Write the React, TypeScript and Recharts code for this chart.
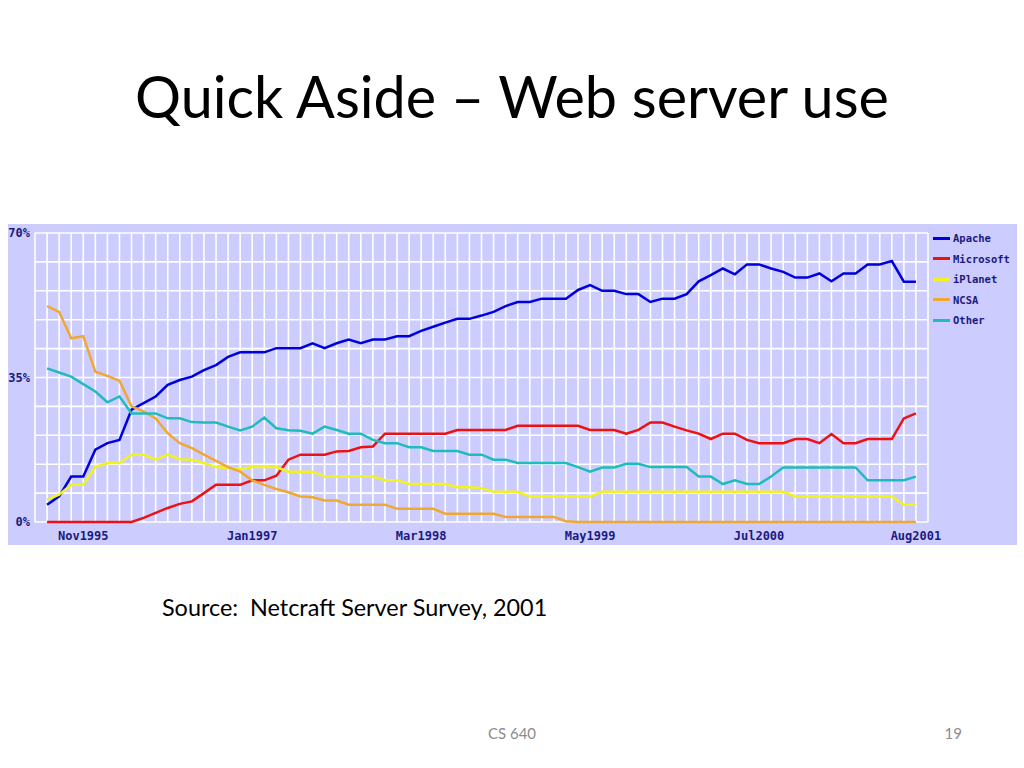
import React from "react";
import { LineChart, Line, XAxis, YAxis, CartesianGrid, Legend } from "recharts";

const monthNames = ["Jan","Feb","Mar","Apr","May","Jun","Jul","Aug","Sep","Oct","Nov","Dec"];
// Monthly survey, Aug1995 .. Aug2001 (73 months)
const months: string[] = [];
for (let k = 0; k < 73; k++) {
  const m = (7 + k) % 12;
  const y = 1995 + Math.floor((7 + k) / 12);
  months.push(monthNames[m] + y);
}

const xTickLabels = ["Nov1995", "Jan1997", "Mar1998", "May1999", "Jul2000", "Aug2001"];
const yTickLabels = ["0%", "35%", "70%"];

const apache = [
  4.2, 6.2, 11.0, 11.0, 17.5, 19.1, 19.9, 27.2, 28.8, 30.4, 33.2, 34.4,
  35.2, 36.8, 38.0, 40.0, 41.1, 41.1, 41.1, 42.1, 42.1, 42.1, 43.3, 42.1,
  43.3, 44.2, 43.3, 44.2, 44.2, 45.0, 45.0, 46.3, 47.3, 48.3, 49.2, 49.2,
  50.0, 50.9, 52.3, 53.3, 53.3, 54.1, 54.1, 54.1, 56.2, 57.4, 56.0, 56.0,
  55.2, 55.2, 53.3, 54.1, 54.1, 55.2, 58.3, 59.8, 61.4, 60.0, 62.4, 62.4,
  61.4, 60.6, 59.2, 59.2, 60.2, 58.3, 60.2, 60.2, 62.4, 62.4, 63.2, 58.2, 58.2,
];
const microsoft = [
  0, 0, 0, 0, 0, 0, 0, 0, 1.0, 2.2, 3.4, 4.4,
  5.0, 7.0, 9.0, 9.0, 9.0, 10.1, 10.1, 11.2, 15.1, 16.3, 16.3, 16.3,
  17.1, 17.2, 18.1, 18.3, 21.4, 21.4, 21.4, 21.4, 21.4, 21.4, 22.3, 22.3,
  22.3, 22.3, 22.3, 23.3, 23.3, 23.3, 23.3, 23.3, 23.3, 22.3, 22.3, 22.3,
  21.4, 22.3, 24.1, 24.1, 23.1, 22.2, 21.4, 20.1, 21.4, 21.4, 19.9, 19.1,
  19.1, 19.1, 20.1, 20.1, 19.1, 21.3, 19.1, 19.1, 20.1, 20.1, 20.1, 25.1, 26.3,
];
const iplanet = [
  5.4, 6.6, 9.0, 9.0, 13.3, 14.3, 14.3, 16.3, 16.3, 15.1, 16.3, 15.2,
  15.1, 14.3, 13.3, 13.1, 12.8, 13.3, 13.3, 13.3, 12.2, 12.2, 12.2, 11.0,
  11.0, 11.0, 11.0, 11.0, 10.1, 10.1, 9.2, 9.2, 9.2, 9.2, 8.4, 8.4,
  8.2, 7.3, 7.3, 7.3, 6.2, 6.2, 6.2, 6.2, 6.2, 6.2, 7.3, 7.3,
  7.3, 7.3, 7.3, 7.3, 7.3, 7.3, 7.3, 7.3, 7.3, 7.3, 7.3, 7.3,
  7.3, 7.3, 6.2, 6.2, 6.2, 6.2, 6.2, 6.2, 6.2, 6.2, 6.2, 4.2, 4.2,
];
const ncsa = [
  52.3, 50.9, 44.5, 45.0, 36.4, 35.4, 34.2, 28.0, 26.8, 25.1, 21.5, 19.1,
  17.9, 16.3, 14.8, 13.3, 12.2, 10.1, 9.0, 8.0, 7.2, 6.2, 6.0, 5.2,
  5.2, 4.2, 4.2, 4.2, 4.2, 3.2, 3.2, 3.2, 3.2, 2.0, 2.0, 2.0,
  2.0, 2.0, 1.2, 1.2, 1.2, 1.2, 1.2, 0.2, 0, 0, 0, 0,
  0, 0, 0, 0, 0, 0, 0, 0, 0, 0, 0, 0,
  0, 0, 0, 0, 0, 0, 0, 0, 0, 0, 0, 0, 0,
];
const other = [
  37.2, 36.2, 35.2, 33.4, 31.6, 29.0, 30.4, 26.3, 26.3, 26.3, 25.1, 25.1,
  24.2, 24.1, 24.1, 23.1, 22.2, 23.1, 25.3, 22.7, 22.2, 22.1, 21.4, 23.1,
  22.3, 21.4, 21.4, 19.9, 19.1, 19.1, 18.1, 18.1, 17.2, 17.2, 17.2, 16.3,
  16.3, 15.1, 15.1, 14.3, 14.3, 14.3, 14.3, 14.3, 13.3, 12.2, 13.2, 13.2,
  14.1, 14.1, 13.3, 13.3, 13.3, 13.3, 11.0, 11.0, 9.2, 10.1, 9.2, 9.2,
  11.0, 13.2, 13.2, 13.2, 13.2, 13.2, 13.2, 13.2, 10.1, 10.1, 10.1, 10.1, 11.0,
];

const seriesNames = ["Apache", "Microsoft", "iPlanet", "NCSA", "Other"];
const seriesColors = ["#0000dd", "#ee1111", "#f2f21e", "#f0a830", "#1fbcbc"];
const seriesValues = [apache, microsoft, iplanet, ncsa, other];

const data = months.map((m, i) => {
  const row: Record<string, number | string> = { i, month: m };
  seriesNames.forEach((n, s) => {
    row[n] = seriesValues[s][i];
  });
  return row;
});

const xLabelByIndex: Record<number, string> = {};
xTickLabels.forEach((lab) => {
  const idx = months.indexOf(lab);
  if (idx >= 0) xLabelByIndex[idx] = lab;
});

const xTicks: number[] = [];
for (let k = -1; k <= 73; k++) xTicks.push(k);
const yTicks = [0, 7, 14, 21, 28, 35, 42, 49, 56, 63, 70];

const navy = "#1a1a80";
const chartFont = "'DejaVu Sans Mono', monospace";

const LegendBox = () => (
  <div style={{ fontFamily: chartFont, fontSize: 10.5, fontWeight: "bold", color: navy, width: 84 }}>
    {seriesNames.map((n, s) => (
      <div key={n} style={{ display: "flex", alignItems: "center", height: 20.5 }}>
        <span
          style={{
            display: "inline-block",
            width: 17,
            height: 3,
            background: seriesColors[s],
            marginRight: 3,
          }}
        />
        <span>{n}</span>
      </div>
    ))}
  </div>
);

export default function App() {
  return (
    <div
      style={{
        position: "absolute",
        left: 0,
        top: 0,
        width: 1024,
        height: 768,
        background: "#ffffff",
        fontFamily: "Lato, 'Open Sans', sans-serif",
        overflow: "hidden",
      }}
    >
      <div
        style={{
          position: "absolute",
          left: 0,
          top: 64,
          width: 1024,
          textAlign: "center",
          fontSize: 57.5,
          lineHeight: "64px",
          color: "#000",
          whiteSpace: "nowrap",
        }}
      >
        Quick Aside – Web server use
      </div>

      <div
        style={{
          position: "absolute",
          left: 8,
          top: 224,
          width: 1009,
          height: 321,
          background: "#ccccff",
        }}
      >
        <LineChart
          width={1009}
          height={321}
          data={data}
          margin={{ top: 9, right: 5, left: 0, bottom: 0 }}
        >
          <CartesianGrid
            stroke="#ffffff"
            strokeWidth={1.6}
            horizontalValues={yTicks}
            verticalValues={xTicks}
          />
          <XAxis
            dataKey="i"
            type="number"
            domain={[-1, 73]}
            ticks={xTicks}
            interval={0}
            height={23}
            axisLine={false}
            tickLine={false}
            tickSize={0}
            tickMargin={9}
            tick={{ fill: navy, fontFamily: chartFont, fontSize: 12, fontWeight: "bold" }}
            tickFormatter={(v: number) => xLabelByIndex[v] ?? ""}
          />
          <YAxis
            type="number"
            domain={[0, 70]}
            ticks={yTicks}
            interval={0}
            width={27}
            axisLine={false}
            tickLine={false}
            tickSize={0}
            tickMargin={5}
            tick={{ fill: navy, fontFamily: chartFont, fontSize: 12, fontWeight: "bold" }}
            tickFormatter={(v: number) => {
              const lab = v + "%";
              return yTickLabels.includes(lab) ? lab : "";
            }}
          />
          <Legend
            layout="vertical"
            align="right"
            verticalAlign="top"
            content={<LegendBox />}
            wrapperStyle={{ left: 925, top: 4, width: 84 }}
          />
          {seriesNames.map((n, s) => (
            <Line
              key={n}
              dataKey={n}
              type="linear"
              stroke={seriesColors[s]}
              strokeWidth={2.5}
              dot={false}
              activeDot={false}
              isAnimationActive={false}
            />
          ))}
        </LineChart>
      </div>

      <div
        style={{
          position: "absolute",
          left: 162,
          top: 593,
          fontSize: 23.4,
          lineHeight: "28px",
          color: "#000",
          whiteSpace: "nowrap",
        }}
      >
        Source:&nbsp; Netcraft Server Survey, 2001
      </div>

      <div
        style={{
          position: "absolute",
          left: 412,
          width: 200,
          top: 723,
          textAlign: "center",
          fontSize: 15,
          lineHeight: "20px",
          color: "#8c8c8c",
          whiteSpace: "nowrap",
        }}
      >
        CS 640
      </div>
      <div
        style={{
          position: "absolute",
          left: 862,
          width: 100,
          top: 723,
          textAlign: "right",
          fontSize: 15,
          lineHeight: "20px",
          color: "#8c8c8c",
          whiteSpace: "nowrap",
        }}
      >
        19
      </div>
    </div>
  );
}
